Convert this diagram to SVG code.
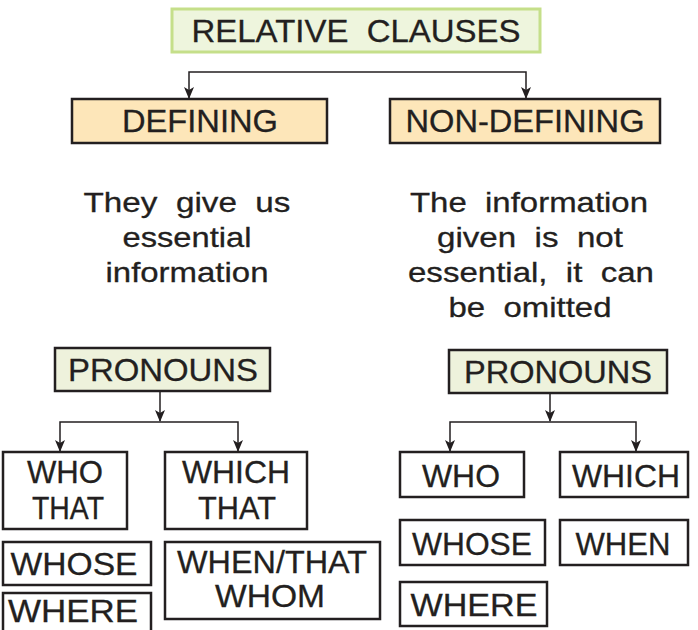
<svg xmlns="http://www.w3.org/2000/svg" width="698" height="630" viewBox="0 0 698 630">
<style>
text{font-family:"Liberation Sans",Arial,sans-serif;fill:#231f20;text-anchor:middle;white-space:pre;stroke:#231f20;stroke-width:0.3}
.t{font-size:31px}
.b{font-size:31px}
.d{font-size:28px}
.box{fill:#fff;stroke:#231f20;stroke-width:2.5}
.or{fill:#fde6b9;stroke:#231f20;stroke-width:2.5}
.pr{fill:#eef2dc;stroke:#231f20;stroke-width:2.5}
.top{fill:#eef5dd;stroke:#c5df8a;stroke-width:3}
.c{fill:none;stroke:#231f20;stroke-width:1.5}
</style>
<defs>
<marker id="a" markerWidth="12" markerHeight="12" refX="11" refY="5" orient="auto" markerUnits="userSpaceOnUse" viewBox="0 0 12 10">
<path d="M0,0 L12,5 L0,10 L3,5 z" fill="#231f20"/>
</marker>
</defs>
<g id="connectors">
<path class="c" d="M358,72 H189 V98" marker-end="url(#a)"/>
<path class="c" d="M358,72 H526 V98" marker-end="url(#a)"/>
<path class="c" d="M160,391 V421" marker-end="url(#a)"/>
<path class="c" d="M160,422 H60 V451" marker-end="url(#a)"/>
<path class="c" d="M160,422 H238 V451" marker-end="url(#a)"/>
<path class="c" d="M550,393 V421" marker-end="url(#a)"/>
<path class="c" d="M550,422 H450 V451" marker-end="url(#a)"/>
<path class="c" d="M550,422 H636 V451" marker-end="url(#a)"/>
</g>
<g id="relative-clauses">
<rect class="top" x="172" y="9" width="368" height="43"/>
<text class="t" x="356" y="42" textLength="329" lengthAdjust="spacingAndGlyphs" xml:space="preserve">RELATIVE  CLAUSES</text>
</g>
<g id="defining">
<rect class="or" x="72" y="99" width="255" height="44"/>
<text class="t" x="200" y="132" textLength="156" lengthAdjust="spacingAndGlyphs">DEFINING</text>
</g>
<g id="non-defining">
<rect class="or" x="390" y="99" width="270" height="44"/>
<text class="t" x="525" y="132" textLength="239" lengthAdjust="spacingAndGlyphs">NON-DEFINING</text>
</g>
<g id="defining-desc">
<text class="d" x="187" y="212" textLength="207" lengthAdjust="spacingAndGlyphs" xml:space="preserve">They  give  us</text>
<text class="d" x="187" y="247" textLength="129" lengthAdjust="spacingAndGlyphs">essential</text>
<text class="d" x="187" y="282" textLength="163" lengthAdjust="spacingAndGlyphs">information</text>
</g>
<g id="non-defining-desc">
<text class="d" x="529" y="212" textLength="238" lengthAdjust="spacingAndGlyphs" xml:space="preserve">The  information</text>
<text class="d" x="530" y="247" textLength="186" lengthAdjust="spacingAndGlyphs" xml:space="preserve">given  is  not</text>
<text class="d" x="531" y="282" textLength="246" lengthAdjust="spacingAndGlyphs" xml:space="preserve">essential,  it  can</text>
<text class="d" x="530" y="317" textLength="163" lengthAdjust="spacingAndGlyphs" xml:space="preserve">be  omitted</text>
</g>
<g id="pronouns-left">
<rect class="pr" x="55" y="348" width="215" height="43"/>
<text class="b" x="163" y="381" textLength="190" lengthAdjust="spacingAndGlyphs">PRONOUNS</text>
</g>
<g id="pronouns-right">
<rect class="pr" x="449" y="350" width="218" height="43"/>
<text class="b" x="558" y="383" textLength="188" lengthAdjust="spacingAndGlyphs">PRONOUNS</text>
</g>
<g id="who-that">
<rect class="box" x="3" y="452" width="124" height="77"/>
<text class="b" x="65" y="483" textLength="76" lengthAdjust="spacingAndGlyphs">WHO</text>
<text class="b" x="68" y="519" textLength="72" lengthAdjust="spacingAndGlyphs">THAT</text>
</g>
<g id="which-that">
<rect class="box" x="165" y="452" width="142" height="77"/>
<text class="b" x="236" y="483" textLength="108" lengthAdjust="spacingAndGlyphs">WHICH</text>
<text class="b" x="237" y="519" textLength="78" lengthAdjust="spacingAndGlyphs">THAT</text>
</g>
<g id="whose-left">
<rect class="box" x="3" y="542" width="148" height="43"/>
<text class="b" x="74" y="575" textLength="127" lengthAdjust="spacingAndGlyphs">WHOSE</text>
</g>
<g id="where-left">
<rect class="box" x="3" y="593" width="148" height="45"/>
<text class="b" x="73" y="622" textLength="130" lengthAdjust="spacingAndGlyphs">WHERE</text>
</g>
<g id="when-that-whom">
<rect class="box" x="165" y="542" width="215" height="77"/>
<text class="b" x="272" y="573" textLength="190" lengthAdjust="spacingAndGlyphs">WHEN/THAT</text>
<text class="b" x="270" y="607" textLength="110" lengthAdjust="spacingAndGlyphs">WHOM</text>
</g>
<g id="who-right">
<rect class="box" x="400" y="452" width="124" height="45"/>
<text class="b" x="461" y="487" textLength="78" lengthAdjust="spacingAndGlyphs">WHO</text>
</g>
<g id="which-right">
<rect class="box" x="560" y="452" width="128" height="45"/>
<text class="b" x="626" y="487" textLength="108" lengthAdjust="spacingAndGlyphs">WHICH</text>
</g>
<g id="whose-right">
<rect class="box" x="400" y="520" width="145" height="45"/>
<text class="b" x="472" y="555" textLength="120" lengthAdjust="spacingAndGlyphs">WHOSE</text>
</g>
<g id="when-right">
<rect class="box" x="560" y="520" width="128" height="45"/>
<text class="b" x="623" y="555" textLength="95" lengthAdjust="spacingAndGlyphs">WHEN</text>
</g>
<g id="where-right">
<rect class="box" x="400" y="582" width="147" height="44"/>
<text class="b" x="474" y="616" textLength="127" lengthAdjust="spacingAndGlyphs">WHERE</text>
</g>
</svg>
